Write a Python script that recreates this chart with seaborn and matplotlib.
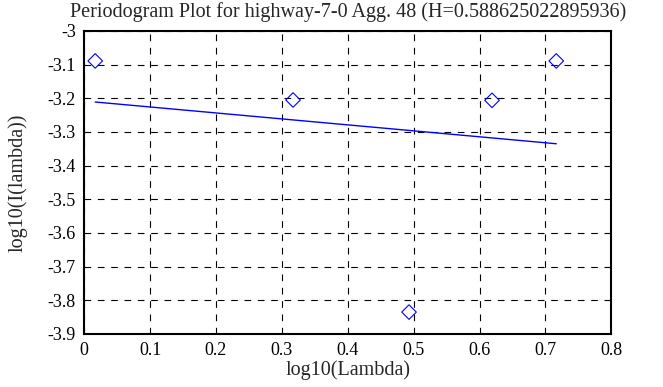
import matplotlib
matplotlib.use('Agg')
import matplotlib.pyplot as plt
import seaborn as sns
import pandas as pd

# periodogram points
log_lambda = [0.0167, 0.3170, 0.4930, 0.6190, 0.7165]
log_I = [-3.089, -3.205, -3.835, -3.206, -3.089]

# fitted line endpoints
fit_x = [0.0167, 0.7165]
fit_y = [-3.211, -3.335]

sns.set_style('white')
plt.rcParams['font.family'] = ['Liberation Serif', 'DejaVu Serif']

pts = pd.DataFrame({'x': log_lambda, 'y': log_I})
fit = pd.DataFrame({'x': fit_x, 'y': fit_y})

fig, ax = plt.subplots(figsize=(6.63, 3.87), dpi=100)
fig.subplots_adjust(left=0.127, right=0.922, top=0.92, bottom=0.137)

sns.scatterplot(data=pts, x='x', y='y', marker='D', s=55, facecolors='none',
                edgecolor='blue', linewidth=0.8, ax=ax)
sns.lineplot(data=fit, x='x', y='y', color='blue', linewidth=1, ax=ax)

ax.set_xlim(0, 0.8)
ax.set_ylim(-3.9, -3.0)
ax.set_xticks([i / 10 for i in range(9)])
ax.set_xticklabels(['0', '0.1', '0.2', '0.3', '0.4', '0.5', '0.6', '0.7', '0.8'])
ax.set_yticks([-3.0 - i / 10 for i in range(10)])
ax.set_yticklabels(['-3', '-3.1', '-3.2', '-3.3', '-3.4', '-3.5', '-3.6', '-3.7', '-3.8', '-3.9'])
ax.grid(True, color='black', linestyle=(0, (6, 6)), linewidth=0.8)
for s in ax.spines.values():
    s.set_color('black')
    s.set_linewidth(1.5)
    s.set_visible(True)
ax.tick_params(direction='in', length=5, width=1, labelsize=13, colors='black', pad=6)
ax.set_xlabel('log10(Lambda)', fontsize=14.5, labelpad=1)
ax.set_ylabel('log10(I(lambda))', fontsize=14.5, labelpad=14)
ax.set_title('Periodogram Plot for highway-7-0 Agg. 48 (H=0.588625022895936)', fontsize=14.5, pad=10)

fig.savefig('out.png', dpi=100)
